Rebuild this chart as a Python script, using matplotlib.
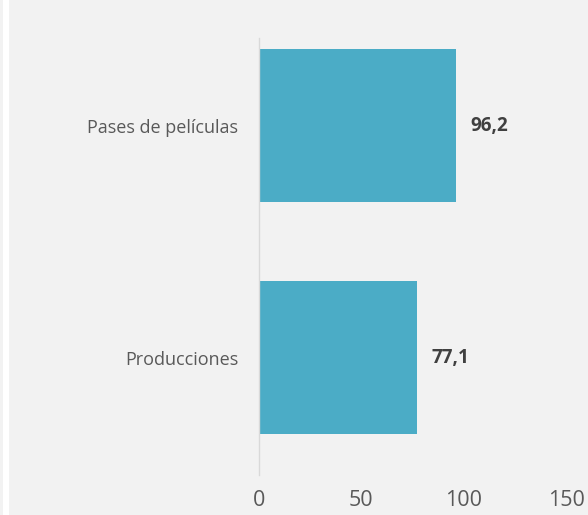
import matplotlib.pyplot as plt
from matplotlib.patches import Rectangle

categories = ['Producciones', 'Pases de películas']
values = [77.1, 96.2]
value_labels = ['77,1', '96,2']
xticks = [0, 50, 100, 150]

bg = '#F2F2F2'
fig = plt.figure(figsize=(5.88, 5.15), dpi=100, facecolor=bg)
plt.rcParams['font.family'] = ['Open Sans', 'DejaVu Sans']

# white strip at the left edge
fig.patches.append(Rectangle((3 / 588, 0), 6 / 588, 1, transform=fig.transFigure,
                             facecolor='white', edgecolor='none'))

ax = fig.add_axes([259 / 588, 40 / 515, 307 / 588, 437 / 515])
ax.set_facecolor(bg)

y = list(range(len(categories)))
ax.barh(y, values, height=0.66, color='#4BACC6')

for yi, v, lab in zip(y, values, value_labels):
    ax.text(v + 7, yi, lab, va='center', ha='left', fontsize=13.5,
            fontweight='bold', color='#404040')

ax.set_xlim(0, 150)
ax.set_ylim(-0.505, 1.379)
ax.set_xticks(xticks)
ax.set_xticklabels([str(t) for t in xticks])
ax.set_yticks(y)
ax.set_yticklabels(categories)
ax.tick_params(axis='x', length=0, pad=11, labelsize=15.5, colors='#595959')
ax.tick_params(axis='y', length=0, pad=15, labelsize=13, colors='#595959')

for side in ['top', 'right', 'bottom']:
    ax.spines[side].set_visible(False)
ax.spines['left'].set_color('#D9D9D9')
ax.spines['left'].set_linewidth(1)

fig.savefig('out.png', dpi=100, facecolor=bg)
